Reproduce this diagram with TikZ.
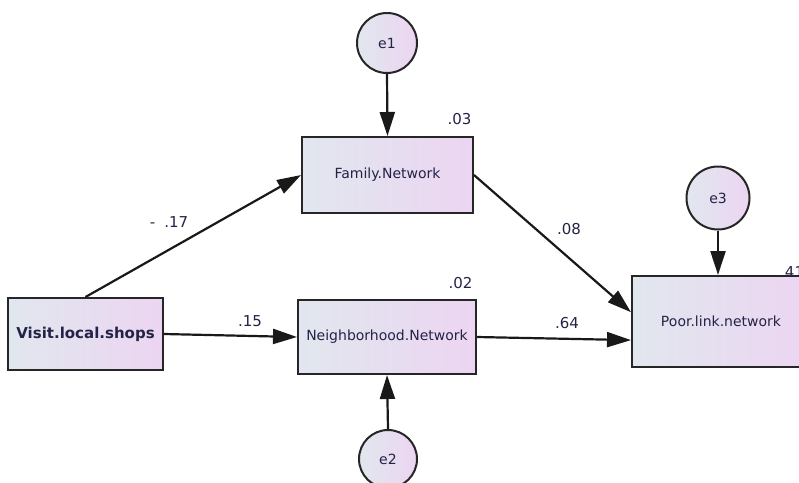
\documentclass[tikz,border=0pt]{standalone}
\usepackage{fontspec}
\setmainfont{DejaVu Sans}
\usetikzlibrary{arrows.meta,calc}
\definecolor{fillL}{HTML}{E1E7EE}
\definecolor{fillR}{HTML}{ECD5F2}
\definecolor{txt}{HTML}{232347}
\tikzset{
  obs/.style={draw=black!85, line width=2pt, rectangle, left color=fillL, right color=fillR,
    font=\fontsize{14}{16}\selectfont, text=txt, inner sep=0pt},
  err/.style={draw=black!85, line width=2pt, circle, left color=fillL, right color=fillR,
    font=\fontsize{14}{16}\selectfont, text=txt, inner sep=0pt},
  conn/.style={line width=2.2pt, draw=black!90, -{Triangle[length=24pt,width=15pt]}},
  coef/.style={font=\fontsize{15}{17}\selectfont, text=txt, inner sep=0pt}
}
\begin{document}
\begin{tikzpicture}[x=1pt,y=-1pt]
\useasboundingbox (0,0) rectangle (799,482);
% observed variables
\node[obs, minimum width=155pt, minimum height=72pt, font=\bfseries\fontsize{15}{17}\selectfont] (visit) at (85.5,334) {Visit.local.shops};
\node[obs, minimum width=171pt, minimum height=76pt] (family) at (387.5,175) {Family.Network};
\node[obs, minimum width=178pt, minimum height=74pt] (neigh) at (387,337) {Neighborhood.Network};
\node[obs, minimum width=178pt, minimum height=91pt] (poor) at (721,321.5) {\raisebox{-4pt}{Poor.link.network}};
% error terms
\node[err, minimum size=60pt] (e1) at (387,43) {e1};
\node[err, minimum size=58pt] (e2) at (388,459) {e2};
\node[err, minimum size=63pt] (e3) at (718,198) {e3};
% paths
\draw[conn] (visit.north) -- (family.west);
\draw[conn] (visit.east) -- (neigh.west);
\draw[conn] (family.east) -- ($(poor.north west)!0.4!(poor.south west)$);
\draw[conn] (neigh.east) -- ($(poor.north west)!0.7!(poor.south west)$);
\draw[conn] (e1.south) -- (family.north);
\draw[conn] (e2.north) -- (neigh.south);
\draw[conn] (e3.south) -- (e3.south |- poor.north);
% coefficients
\node[coef] (c1) at (169,222) {-\hspace{9pt}.17};
\node[coef] (c2) at (250,321.5) {.15};
\node[coef] (c3) at (569,229.5) {.08};
\node[coef] (c4) at (567,323.5) {.64};
\node[coef] (r1) at (459.5,119.5) {.03};
\node[coef] (r2) at (460.5,283.5) {.02};
\node[coef, anchor=west] (r3) at (780,272) {.41};
\end{tikzpicture}
\end{document}
